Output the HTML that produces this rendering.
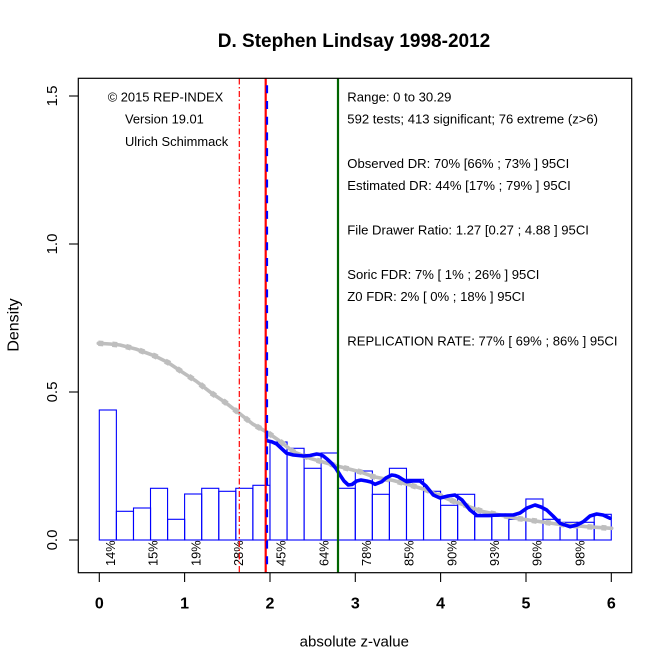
<!DOCTYPE html>
<html><head><meta charset="utf-8"><style>
html,body{margin:0;padding:0;background:#fff;}
svg{display:block;font-family:"Liberation Sans",Arial,sans-serif;}
</style></head><body>
<svg width="672" height="671" viewBox="0 0 672 671" xmlns="http://www.w3.org/2000/svg">
<rect x="0" y="0" width="672" height="671" fill="#fff"/>
<text x="354" y="47" font-size="19" font-weight="bold" text-anchor="middle">D. Stephen Lindsay 1998-2012</text>

<!-- histogram bars -->
<g fill="none" stroke="#0000FF" stroke-width="1.1">
<rect x="99.3" y="410" width="17.07" height="130"/>
<rect x="116.4" y="511.3" width="17.07" height="28.7"/>
<rect x="133.5" y="508" width="17.07" height="32"/>
<rect x="150.5" y="488.3" width="17.07" height="51.7"/>
<rect x="167.6" y="519.3" width="17.07" height="20.7"/>
<rect x="184.6" y="494" width="17.07" height="46"/>
<rect x="201.7" y="488.3" width="17.07" height="51.7"/>
<rect x="218.8" y="491.3" width="17.07" height="48.7"/>
<rect x="235.8" y="488.3" width="17.07" height="51.7"/>
<rect x="252.9" y="485.3" width="17.07" height="54.7"/>
<rect x="270" y="442" width="17.07" height="98"/>
<rect x="287" y="448.3" width="17.07" height="91.7"/>
<rect x="304.1" y="468.3" width="17.07" height="71.7"/>
<rect x="321.1" y="453" width="17.07" height="87"/>
<rect x="338.2" y="488.3" width="17.07" height="51.7"/>
<rect x="355.3" y="471" width="17.07" height="69"/>
<rect x="372.3" y="494.3" width="17.07" height="45.7"/>
<rect x="389.4" y="468.3" width="17.07" height="71.7"/>
<rect x="406.5" y="479.3" width="17.07" height="60.7"/>
<rect x="423.5" y="491.3" width="17.07" height="48.7"/>
<rect x="440.6" y="505.3" width="17.07" height="34.7"/>
<rect x="457.6" y="494.3" width="17.07" height="45.7"/>
<rect x="474.7" y="516.7" width="17.07" height="23.3"/>
<rect x="491.8" y="516.3" width="17.07" height="23.7"/>
<rect x="508.8" y="519.3" width="17.07" height="20.7"/>
<rect x="525.9" y="499" width="17.07" height="41"/>
<rect x="543" y="519.3" width="17.07" height="20.7"/>
<rect x="560" y="522.3" width="17.07" height="17.7"/>
<rect x="577.1" y="522.3" width="17.07" height="17.7"/>
<rect x="594.2" y="514.3" width="17.07" height="25.7"/>
</g>

<!-- gray curve -->
<g fill="none" stroke="#BEBEBE" stroke-linejoin="round" stroke-linecap="round">
<polyline stroke-width="3.6" points="98.3,343.3 110,344 120,345 136.7,349.3 155,356 168.3,362.7 181.7,371.7 196,381 211,392.7 224.3,401.7 239.3,413.3 252.7,424 266.7,432 278.3,440 293.3,451.7 310,458.3 333.3,465 345,468 360,471.7 373.3,476.7 393.3,480.5 410,485 426.7,490 450,500 483.3,511.7 516.7,518.3 556.7,524 586.7,526.7 611.7,528.3"/>
<polyline stroke-width="5.5" stroke-dasharray="5,9" stroke-linecap="butt" points="98.3,343.3 110,344 120,345 136.7,349.3 155,356 168.3,362.7 181.7,371.7 196,381 211,392.7 224.3,401.7 239.3,413.3 252.7,424 266.7,432 278.3,440 293.3,451.7 310,458.3 333.3,465 345,468 360,471.7 373.3,476.7 393.3,480.5 410,485 426.7,490 450,500 483.3,511.7 516.7,518.3 556.7,524 586.7,526.7 611.7,528.3"/>
</g>

<!-- blue curve -->
<polyline fill="none" stroke="#0000FF" stroke-width="3.6" stroke-linejoin="round" stroke-linecap="round" points="267,440.7 271.7,441.7 276.7,444 281,448 286.7,453.3 293.3,455 303.3,456 310,455.5 316.7,454 320,454.5 323.3,456 327,459 331.7,463.3 336,468.5 340,475 344,481 348.3,485 352,484.5 356.7,481 361,480 366.7,481 371,482 375,484.3 381.7,481.7 386,478 391.7,475 395,475.5 398.3,476.7 402,479 406.7,481.7 413,481 420,481 426,486 433.3,495 440,498 448,496 455,495 462,500 470,510 477,515.5 488,515.5 500,515 513.3,515 520,513 527,508 535,505 541,507 546.7,510 553,516 560,523.3 570,526.7 577,525 583.3,521.7 590,516 596.7,514 603,515 610,518.3"/>

<!-- percent labels -->
<g font-size="12.8" fill="#000">
<text transform="translate(115,566) rotate(-90)">14%</text>
<text transform="translate(157.7,566) rotate(-90)">15%</text>
<text transform="translate(200.3,566) rotate(-90)">19%</text>
<text transform="translate(243,566) rotate(-90)">28%</text>
<text transform="translate(285.7,566) rotate(-90)">45%</text>
<text transform="translate(328.3,566) rotate(-90)">64%</text>
<text transform="translate(371,566) rotate(-90)">78%</text>
<text transform="translate(413.7,566) rotate(-90)">85%</text>
<text transform="translate(456.3,566) rotate(-90)">90%</text>
<text transform="translate(499,566) rotate(-90)">93%</text>
<text transform="translate(541.7,566) rotate(-90)">96%</text>
<text transform="translate(584.3,566) rotate(-90)">98%</text>
</g>

<!-- vertical lines -->
<line x1="239.3" y1="78.5" x2="239.3" y2="572.5" stroke="#FF0000" stroke-width="1.2" stroke-dasharray="6,2.5,1.5,2.5"/>
<line x1="265.7" y1="78.5" x2="265.7" y2="572.5" stroke="#FF0000" stroke-width="2.2"/>
<line x1="267" y1="85.3" x2="267" y2="572.5" stroke="#0000FF" stroke-width="2.2" stroke-dasharray="8,7.7"/>
<line x1="338" y1="78.5" x2="338" y2="572.5" stroke="#006400" stroke-width="2.2"/>

<!-- box -->
<rect x="78.3" y="78.3" width="553.4" height="494.4" fill="none" stroke="#000" stroke-width="1.2"/>

<!-- y axis -->
<g stroke="#000" stroke-width="1.1">
<line x1="69" y1="540" x2="78.3" y2="540"/>
<line x1="69" y1="392" x2="78.3" y2="392"/>
<line x1="69" y1="244" x2="78.3" y2="244"/>
<line x1="69" y1="96" x2="78.3" y2="96"/>
</g>
<g font-size="15" text-anchor="middle">
<text transform="translate(57,540) rotate(-90)">0.0</text>
<text transform="translate(57,392) rotate(-90)">0.5</text>
<text transform="translate(57,244) rotate(-90)">1.0</text>
<text transform="translate(57,96) rotate(-90)">1.5</text>
</g>
<text transform="translate(18.3,325) rotate(-90)" font-size="16" text-anchor="middle">Density</text>

<!-- x axis -->
<g stroke="#000" stroke-width="1.1">
<line x1="99.3" y1="572.7" x2="99.3" y2="582"/>
<line x1="184.6" y1="572.7" x2="184.6" y2="582"/>
<line x1="270" y1="572.7" x2="270" y2="582"/>
<line x1="355.3" y1="572.7" x2="355.3" y2="582"/>
<line x1="440.6" y1="572.7" x2="440.6" y2="582"/>
<line x1="526" y1="572.7" x2="526" y2="582"/>
<line x1="611.3" y1="572.7" x2="611.3" y2="582"/>
</g>
<g font-size="16" font-weight="bold" text-anchor="middle">
<text x="99.3" y="608.3">0</text>
<text x="184.6" y="608.3">1</text>
<text x="270" y="608.3">2</text>
<text x="355.3" y="608.3">3</text>
<text x="440.6" y="608.3">4</text>
<text x="526" y="608.3">5</text>
<text x="611.3" y="608.3">6</text>
</g>
<text x="354.3" y="646.7" font-size="15" text-anchor="middle">absolute z-value</text>

<!-- left text -->
<g font-size="12.9">
<text x="107.7" y="101.5">© 2015 REP-INDEX</text>
<text x="125" y="123.7">Version 19.01</text>
<text x="125" y="145.9">Ulrich Schimmack</text>
</g>

<!-- right text -->
<g font-size="13.1">
<text x="347.3" y="101.5">Range: 0 to 30.29</text>
<text x="347.3" y="123.7">592 tests; 413 significant; 76 extreme (z&gt;6)</text>
<text x="347.3" y="168">Observed DR: 70% [66% ; 73% ] 95CI</text>
<text x="347.3" y="190.2">Estimated DR: 44% [17% ; 79% ] 95CI</text>
<text x="347.3" y="234.6">File Drawer Ratio: 1.27 [0.27 ; 4.88 ] 95CI</text>
<text x="347.3" y="279">Soric FDR: 7% [ 1% ; 26% ] 95CI</text>
<text x="347.3" y="301.2">Z0 FDR: 2% [ 0% ; 18% ] 95CI</text>
<text x="347.3" y="345.5">REPLICATION RATE: 77% [ 69% ; 86% ] 95CI</text>
</g>
</svg>
</body></html>
